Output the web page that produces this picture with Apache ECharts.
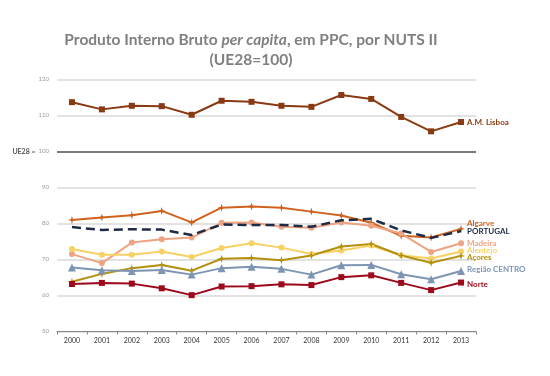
<!DOCTYPE html>
<html>
<head>
<meta charset="utf-8">
<script src="https://cdn.jsdelivr.net/npm/echarts@6/dist/echarts.min.js"></script>
<style>
	html, body { margin: 0; padding: 0; background: #fff; }
	#chart_box { width: 550px; height: 376px; }
</style>
</head>
<body>
<div id="chart_box"></div>
<script>
var years = ['2000', '2001', '2002', '2003', '2004', '2005', '2006', '2007', '2008', '2009', '2010', '2011', '2012', '2013'];

var lisboa   = [113.7, 111.7, 112.7, 112.6, 110.2, 114.1, 113.8, 112.7, 112.4, 115.7, 114.6, 109.6, 105.6, 108.2];
var algarve  = [81.0, 81.7, 82.3, 83.5, 80.3, 84.4, 84.7, 84.4, 83.3, 82.2, 80.2, 76.6, 76.1, 78.5];
var portugal = [79.0, 78.2, 78.4, 78.3, 76.8, 79.7, 79.6, 79.6, 79.1, 80.9, 81.3, 78.1, 76.0, 77.9];
var madeira  = [71.5, 69.0, 74.7, 75.6, 76.1, 80.2, 80.3, 79.1, 78.8, 80.3, 79.4, 77.2, 72.1, 74.5];
var alentejo = [72.9, 71.3, 71.3, 72.2, 70.7, 73.2, 74.5, 73.3, 71.5, 72.5, 73.9, 71.2, 70.3, 72.2];
var acores   = [63.8, 66.0, 67.6, 68.5, 66.9, 70.2, 70.4, 69.8, 71.1, 73.6, 74.3, 71.1, 69.1, 71.0];
var centro   = [67.8, 67.0, 66.8, 67.1, 65.8, 67.6, 68.0, 67.4, 65.8, 68.4, 68.5, 65.9, 64.5, 66.8];
var norte    = [63.2, 63.5, 63.3, 62.0, 60.1, 62.5, 62.6, 63.1, 62.9, 65.1, 65.6, 63.5, 61.5, 63.6];

var FONT = 'Lato';
var starPath = 'path://M5,0 L6.2,3.8 L10,5 L6.2,6.2 L5,10 L3.8,6.2 L0,5 L3.8,3.8 Z';

/*一条线的配置*/
function makeLine(name, data, color, symbol, size, offset, extra) {
	var s = {
		name: name,
		type: 'line',
		data: data,
		symbol: symbol,
		symbolSize: size,
		showAllSymbol: true,
		lineStyle: { color: color, width: 2 },
		itemStyle: { color: color },
		endLabel: {
			show: true,
			formatter: name,
			color: color,
			fontFamily: FONT,
			fontWeight: 'bold',
			fontSize: 8,
			distance: 6,
			offset: offset
		},
		z: 3
	};
	for (var k in extra) s[k] = extra[k];
	return s;
}

var myChart = echarts.init(document.getElementById('chart_box'));

var option = {
	animation: false,
	textStyle: { fontFamily: FONT },
	title: {
		text: '{b|Produto Interno Bruto }{i|per capita}{b|, em PPC, por NUTS II}\n{b|(UE28=100)}',
		left: 246,
		top: 25,
		textAlign: 'center',
		textStyle: {
			align: 'center',
			rich: {
				b: { fontFamily: FONT, fontSize: 15.5, fontWeight: 'bold', color: '#808080', lineHeight: 20 },
				i: { fontFamily: FONT, fontSize: 15.5, fontWeight: 'bold', fontStyle: 'italic', color: '#808080', lineHeight: 20 }
			}
		}
	},
	grid: { left: 57, right: 74, top: 79.5, bottom: 44.5 },
	xAxis: {
		type: 'category',
		data: years,
		boundaryGap: true,
		axisLine: { lineStyle: { color: '#888', width: 1 } },
		axisTick: { show: true, length: 3, lineStyle: { color: '#888' } },
		axisLabel: { color: '#333', fontSize: 7, fontFamily: FONT, margin: 6 }
	},
	yAxis: {
		type: 'value',
		min: 50,
		max: 120,
		interval: 10,
		axisLine: { show: false },
		axisTick: { show: false },
		splitLine: { lineStyle: { color: '#d9d9d9', width: 1.5 } },
		axisLabel: {
			fontFamily: FONT,
			fontSize: 6,
			color: '#999',
			margin: 8,
			formatter: function(v) {
				if (v === 100) return '{u|UE28 =}  {n|100}';
				return '{n|' + v + '}';
			},
			rich: {
				n: { fontSize: 6, color: '#999', fontFamily: FONT },
				u: { fontSize: 7, color: '#555', fontFamily: FONT, fontWeight: 'bold' }
			}
		}
	},
	series: [
		makeLine('A.M. Lisboa', lisboa, '#8a3a12', 'rect', 6, [0, 0], {
			markLine: {
				silent: true,
				symbol: 'none',
				label: { show: false },
				lineStyle: { color: '#7a7a7a', width: 2, type: 'solid' },
				data: [{ yAxis: 100 }]
			}
		}),
		makeLine('Algarve', algarve, '#cf621f', starPath, 8, [0, -5], {}),
		makeLine('PORTUGAL', portugal, '#1f2b45', 'none', 0, [0, 0], {
			lineStyle: { color: '#1f2b45', width: 2.5, type: [9, 5] },
			z: 4
		}),
		makeLine('Madeira', madeira, '#eea383', 'circle', 6, [0, 0], {}),
		makeLine('Alentejo', alentejo, '#f7d163', 'circle', 6, [0, -1], {}),
		makeLine('Açores', acores, '#b3900f', starPath, 8, [0, 2], {}),
		makeLine('Região CENTRO', centro, '#7d95b3', 'triangle', 8, [0, -2], {}),
		makeLine('Norte', norte, '#9c0a1c', 'rect', 6, [0, 2], {})
	]
};
myChart.setOption(option);
</script>
</body>
</html>
